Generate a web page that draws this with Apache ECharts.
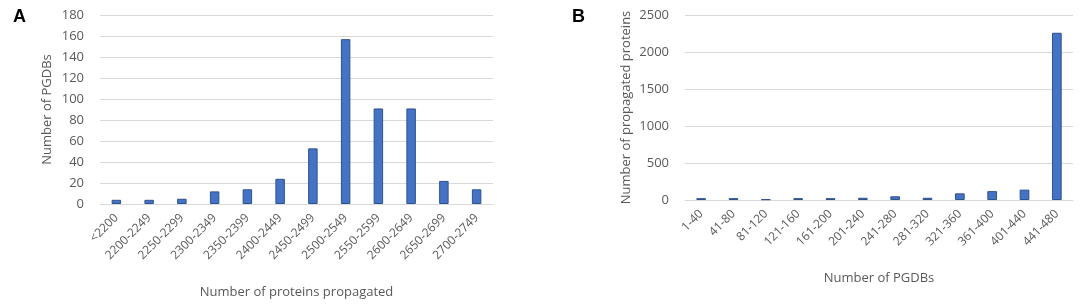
<!DOCTYPE html>
<html>
<head>
<meta charset="utf-8">
<script src="https://cdn.jsdelivr.net/npm/echarts@6/dist/echarts.min.js"></script>
<style>
  html, body { margin: 0; padding: 0; background: #fff; }
  #chart { width: 1084px; height: 305px; }
</style>
</head>
<body>
<div id="chart"></div>
<script>
// panel A: PGDBs by number of proteins propagated
var catsA = ['<2200', '2200-2249', '2250-2299', '2300-2349', '2350-2399', '2400-2449',
  '2450-2499', '2500-2549', '2550-2599', '2600-2649', '2650-2699', '2700-2749'];
var valsA = [4, 4, 5, 12, 14, 24, 53, 157, 91, 91, 22, 14];

// panel B: propagated proteins by number of PGDBs
var catsB = ['1-40', '41-80', '81-120', '121-160', '161-200', '201-240',
  '241-280', '281-320', '321-360', '361-400', '401-440', '441-480'];
var valsB = [25, 25, 10, 25, 25, 30, 50, 30, 90, 120, 140, 2260];

var txt = '#595959';
var fam = '"Open Sans", "Noto Sans", sans-serif';

function xAxisOf(idx, cats, name, gap) {
  return {
    type: 'category', gridIndex: idx, data: cats,
    name: name, nameLocation: 'middle', nameGap: gap,
    nameTextStyle: { color: txt, fontSize: 13, fontFamily: fam },
    axisLine: { lineStyle: { color: '#d9d9d9' } },
    axisTick: { show: false },
    axisLabel: { interval: 0, rotate: 45, color: txt, fontSize: 12, fontFamily: fam, margin: 12 }
  };
}
function yAxisOf(idx, max, step, name, gap) {
  return {
    type: 'value', gridIndex: idx, min: 0, max: max, interval: step,
    name: name, nameLocation: 'middle', nameGap: gap,
    nameTextStyle: { color: txt, fontSize: 13, fontFamily: fam },
    axisLine: { show: false }, axisTick: { show: false },
    axisLabel: { color: txt, fontSize: 13, fontFamily: fam, margin: 16,
      formatter: function (v) { return String(v); } },
    splitLine: { lineStyle: { color: '#d9d9d9' } }
  };
}
var barStyle = { color: '#4472c4', borderColor: '#2f528f', borderWidth: 1 };

var chart = echarts.init(document.getElementById('chart'));
chart.setOption({
  animation: false,
  title: [
    { text: 'A', left: 8, top: 3, textStyle: { fontSize: 18, fontWeight: 'bold', color: '#000', fontFamily: 'Liberation Sans, Arial, sans-serif' } },
    { text: 'B', left: 567, top: 3, textStyle: { fontSize: 18, fontWeight: 'bold', color: '#000', fontFamily: 'Liberation Sans, Arial, sans-serif' } }
  ],
  grid: [
    { left: 100, right: 591, top: 15, bottom: 101 },
    { left: 685, right: 11, top: 15, bottom: 105 }
  ],
  xAxis: [
    xAxisOf(0, catsA, 'Number of proteins propagated', 82),
    xAxisOf(1, catsB, 'Number of PGDBs', 72)
  ],
  yAxis: [
    yAxisOf(0, 180, 20, 'Number of PGDBs', 46),
    yAxisOf(1, 2500, 500, 'Number of propagated proteins', 52)
  ],
  series: [
    { type: 'bar', xAxisIndex: 0, yAxisIndex: 0, data: valsA, barWidth: '29%', itemStyle: barStyle },
    { type: 'bar', xAxisIndex: 1, yAxisIndex: 1, data: valsB, barWidth: '30%', itemStyle: barStyle }
  ]
});
</script>
</body>
</html>
